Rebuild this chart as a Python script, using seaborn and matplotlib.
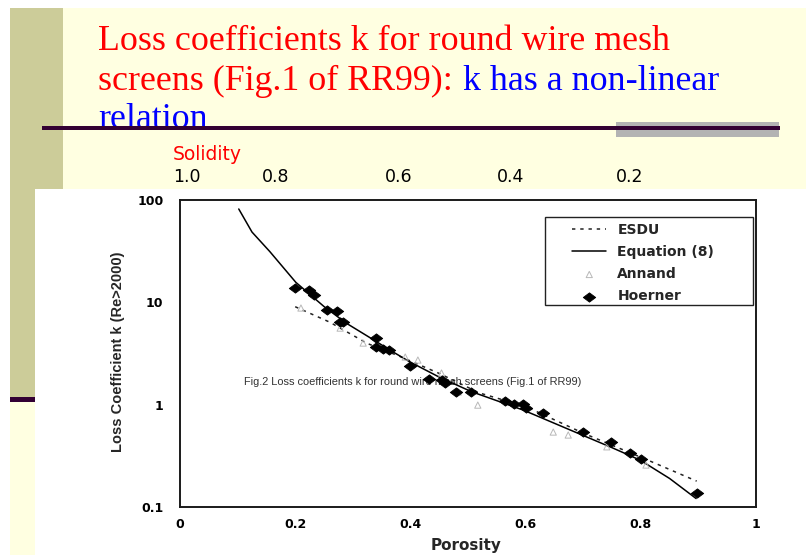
import numpy as np
import pandas as pd
import matplotlib
matplotlib.use("Agg")
import matplotlib.pyplot as plt
from matplotlib.patches import Rectangle
from matplotlib.path import Path
from matplotlib.ticker import NullLocator
import seaborn as sns

# ---- data -------------------------------------------------------------
hoerner_porosity = [0.200, 0.224, 0.232, 0.255, 0.272, 0.277, 0.283, 0.341, 0.341,
                    0.353, 0.363, 0.400, 0.433, 0.454, 0.460, 0.480, 0.505, 0.564,
                    0.579, 0.596, 0.601, 0.630, 0.699, 0.748, 0.782, 0.800, 0.898]
hoerner_k = [13.8, 13.2, 11.8, 8.4, 8.2, 6.45, 6.45, 4.53, 3.66,
             3.50, 3.42, 2.38, 1.80, 1.74, 1.64, 1.34, 1.34, 1.08,
             1.01, 1.01, 0.92, 0.82, 0.536, 0.428, 0.339, 0.294, 0.136]

annand_porosity = [0.210, 0.278, 0.318, 0.391, 0.413, 0.454, 0.483, 0.517,
                   0.648, 0.674, 0.741, 0.809]
annand_k = [8.8, 5.6, 4.0, 2.92, 2.73, 2.04, 1.33, 0.99, 0.54, 0.505, 0.387, 0.257]

esdu_porosity = [0.20, 0.26, 0.325, 0.38, 0.45, 0.52, 0.60, 0.70, 0.82, 0.897]
esdu_k = [9.06, 6.4, 3.97, 2.99, 2.02, 1.30, 0.96, 0.527, 0.275, 0.179]

eq8_porosity = [0.102, 0.125, 0.156, 0.201, 0.25, 0.289, 0.336, 0.365, 0.399,
                0.45, 0.506, 0.596, 0.671, 0.75, 0.799, 0.85, 0.896]
eq8_k = [81.7, 48.6, 31.3, 15.7, 9.1, 6.24, 4.3, 3.4, 2.62,
         1.86, 1.34, 0.885, 0.586, 0.38, 0.287, 0.19, 0.121]

x_ticks = [0, 0.2, 0.4, 0.6, 0.8, 1]
x_tick_labels = ["0", "0.2", "0.4", "0.6", "0.8", "1"]
y_ticks = [0.1, 1, 10, 100]
y_tick_labels = ["0.1", "1", "10", "100"]
solidity_labels = ["1.0", "0.8", "0.6", "0.4", "0.2"]

hoerner = pd.DataFrame({"porosity": hoerner_porosity, "k": hoerner_k})
annand = pd.DataFrame({"porosity": annand_porosity, "k": annand_k})
esdu = pd.DataFrame({"porosity": esdu_porosity, "k": esdu_k})
eq8 = pd.DataFrame({"porosity": eq8_porosity, "k": eq8_k})

# ---- figure / slide background ---------------------------------------
sns.set_style("white")
plt.rcParams["font.family"] = ["DejaVu Sans"]

W, H = 806, 555
fig = plt.figure(figsize=(W / 100, H / 100), dpi=100)
fig.patch.set_facecolor("white")


def px_rect(x0, y0, x1, y1, color, z):
    """Rectangle given in pixel coordinates measured from the top-left."""
    fig.add_artist(Rectangle((x0 / W, 1 - y1 / H), (x1 - x0) / W, (y1 - y0) / H,
                             transform=fig.transFigure, facecolor=color,
                             edgecolor="none", zorder=z))


def px_text(x, y, s, **kw):
    return fig.text(x / W, 1 - y / H, s, **kw)


px_rect(10, 8, W, H, "#FFFFE1", -20)          # slide background
px_rect(10, 8, 63, 397, "#CCCC99", -19)       # side bar
px_rect(10, 397, 35, 401.5, "#330033", -19)   # side bar rule
px_rect(35, 189, W, H, "white", -18)          # figure panel
px_rect(616, 122, 779, 137, "#B3B3B3", 2)     # accent block
px_rect(42, 126.3, 780, 129.7, "#330033", 3)  # title rule

title_kw = dict(family="Liberation Serif", fontsize=25.8, va="baseline", ha="left", zorder=1)
px_text(98, 49.5, "Loss coefficients k for round wire mesh", color="#FF0000", **title_kw)
px_text(98, 89.5, "screens (Fig.1 of RR99):", color="#FF0000", **title_kw)
px_text(463, 89.5, "k has a non-linear", color="#0000FF", **title_kw)
px_text(98, 127.5, "relation", color="#0000FF", **title_kw)

px_text(173, 154, "Solidity", color="#FF0000", fontsize=13.5, va="center", ha="left")
for lab, cx in zip(solidity_labels, [187, 276, 399, 511, 630]):
    px_text(cx, 177, lab, color="black", fontsize=12.5, va="center", ha="center")

# ---- chart -------------------------------------------------------------
ax = fig.add_axes([180 / W, 1 - 507 / H, 576 / W, 307 / H])
ax.set_facecolor("white")

sns.lineplot(data=esdu, x="porosity", y="k", ax=ax, color="#222222",
             linewidth=1.1, linestyle=(0, (2.2, 3.2)), label="ESDU", zorder=3)
sns.lineplot(data=eq8, x="porosity", y="k", ax=ax, color="black",
             linewidth=1.1, label="Equation (8)", zorder=3)
sns.scatterplot(data=annand, x="porosity", y="k", ax=ax, marker="^", s=20,
                facecolor="none", edgecolor="#B8B8B8", linewidth=0.7,
                label="Annand", zorder=4)
diamond = Path([(-1.0, 0.0), (0.0, 0.75), (1.0, 0.0), (0.0, -0.75), (-1.0, 0.0)],
               [Path.MOVETO, Path.LINETO, Path.LINETO, Path.LINETO, Path.CLOSEPOLY])
sns.scatterplot(data=hoerner, x="porosity", y="k", ax=ax, marker=diamond, s=80,
                color="black", edgecolor="black", linewidth=0.6,
                label="Hoerner", zorder=5)

ax.set_yscale("log")
ax.set_xlim(0, 1)
ax.set_ylim(0.1, 100)
ax.set_xticks(x_ticks)
ax.set_xticklabels(x_tick_labels)
ax.set_yticks(y_ticks)
ax.set_yticklabels(y_tick_labels)
ax.yaxis.set_minor_locator(NullLocator())
ax.tick_params(axis="x", direction="in", length=7, width=1, pad=8, colors="black")
ax.tick_params(axis="y", direction="out", length=5, width=1, pad=7, colors="black")
for lab in ax.get_xticklabels() + ax.get_yticklabels():
    lab.set_fontweight("bold")
    lab.set_fontsize(9)

for sp in ax.spines.values():
    sp.set_visible(True)
    sp.set_color("#1a1a1a")
    sp.set_linewidth(1.4)

ax.set_xlabel("Porosity", fontsize=11, fontweight="bold")
ax.xaxis.set_label_coords(0.497, -0.127)
ax.xaxis.label.set_va("center")
ax.set_ylabel("Loss Coefficient k (Re>2000)", family="Liberation Sans",
              fontsize=10.5, fontweight="bold")
ax.yaxis.set_label_coords(-0.1085, 0.505)
ax.yaxis.label.set_va("center")

ax.text(0.111, 0.397, "Fig.2 Loss coefficients k for round wire mesh screens (Fig.1 of RR99)",
        transform=ax.transAxes, family="Liberation Sans", fontsize=7.9,
        color="#333333", va="baseline", ha="left", zorder=2)

# legend: frame drawn as a box, entries placed inside it
ax.add_patch(Rectangle((0.634, 0.658), 0.361, 0.287, transform=ax.transAxes,
                       facecolor="white", edgecolor="#222222", linewidth=1.0,
                       zorder=6))
handles, labels = ax.get_legend_handles_labels()
leg = ax.legend(handles, labels, loc="upper left", bbox_to_anchor=(0.681, 0.925),
                frameon=False, borderpad=0, borderaxespad=0, handlelength=2.45,
                handletextpad=0.8, labelspacing=0.58, scatterpoints=1,
                prop=dict(family="DejaVu Sans", weight="bold", size=10))
leg.set_zorder(7)

fig.savefig("out.png", dpi=100)
